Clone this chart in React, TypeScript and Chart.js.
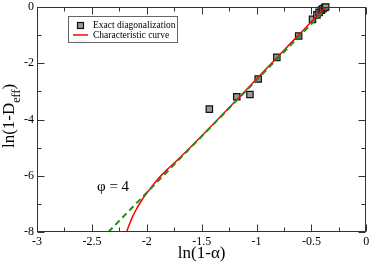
import React, { useEffect, useRef } from "react";
import { Chart, registerables } from "chart.js";

Chart.register(...registerables);

// Exact diagonalization points
const edX = [-1.43, -1.18, -1.06, -0.985, -0.815, -0.616, -0.49, -0.45, -0.43, -0.41, -0.395, -0.38, -0.37];
const edY = [-3.63, -3.19, -3.11, -2.56, -1.79, -1.03, -0.44, -0.28, -0.19, -0.11, -0.06, -0.02, 0.0];

// Characteristic curve
const curveX = [-2.184, -2.16, -2.13, -2.096, -2.06, -2.02, -1.97, -1.93, -1.88, -1.82, -1.75, -1.6, -1.4, -1.2, -1.0, -0.8, -0.6, -0.45, -0.37];
const curveY = [-8, -7.74, -7.46, -7.2, -6.96, -6.72, -6.47, -6.27, -6.04, -5.8, -5.55, -4.98, -4.19, -3.38, -2.56, -1.74, -0.93, -0.32, 0.0];

// Asymptote phi = 4
const asymX = [-2.35, -0.35];
const asymY = [-8, 0];

const xMajor = [-3, -2.5, -2, -1.5, -1, -0.5, 0];
const xMinor = [-2.75, -2.25, -1.75, -1.25, -0.75, -0.25];
const yMajor = [-8, -6, -4, -2, 0];
const yMinor = [-7, -5, -3, -1];

const SERIF = "'Liberation Serif', 'DejaVu Serif', serif";

const framePlugin = {
  id: "framePlugin",
  afterDraw(chart: any) {
    const { ctx, chartArea } = chart;
    const xs = chart.scales.x;
    const ys = chart.scales.y;
    const L = Math.round(chartArea.left) + 0.5;
    const R = Math.round(chartArea.right) - 0.5;
    const T = Math.round(chartArea.top) + 0.5;
    const B = Math.round(chartArea.bottom) - 0.5;
    ctx.save();
    ctx.strokeStyle = "#333";
    ctx.lineWidth = 1;
    ctx.strokeRect(L, T, R - L, B - T);
    ctx.beginPath();
    const tx = (v: number, len: number) => {
      const p = Math.round(xs.getPixelForValue(v)) + 0.5;
      ctx.moveTo(p, B);
      ctx.lineTo(p, B - len);
      ctx.moveTo(p, T);
      ctx.lineTo(p, T + len);
    };
    const ty = (v: number, len: number) => {
      const p = Math.round(ys.getPixelForValue(v)) + 0.5;
      ctx.moveTo(L, p);
      ctx.lineTo(L + len, p);
      ctx.moveTo(R, p);
      ctx.lineTo(R - len, p);
    };
    xMajor.forEach((v) => tx(v, 7));
    xMinor.forEach((v) => tx(v, 4));
    yMajor.forEach((v) => ty(v, 7));
    yMinor.forEach((v) => ty(v, 4));
    ctx.stroke();

    // Axis titles
    ctx.fillStyle = "#000";
    ctx.font = `17px ${SERIF}`;
    ctx.textAlign = "center";
    ctx.textBaseline = "alphabetic";
    ctx.fillText("ln(1-α)", (chartArea.left + chartArea.right) / 2, 258);

    // Y title with subscript, rotated
    ctx.save();
    ctx.translate(14, 116);
    ctx.rotate(-Math.PI / 2);
    const mainFont = `17px ${SERIF}`;
    const subFont = `12px ${SERIF}`;
    ctx.font = mainFont;
    const p1 = "ln(1-D";
    const w1 = ctx.measureText(p1).width;
    ctx.font = subFont;
    const p2 = "eff";
    const w2 = ctx.measureText(p2).width;
    ctx.font = mainFont;
    const p3 = ")";
    const w3 = ctx.measureText(p3).width;
    const total = w1 + w2 + w3;
    let x0 = -total / 2;
    ctx.textAlign = "left";
    ctx.font = mainFont;
    ctx.fillText(p1, x0, 0);
    x0 += w1;
    ctx.font = subFont;
    ctx.fillText(p2, x0, 6);
    x0 += w2;
    ctx.font = mainFont;
    ctx.fillText(p3, x0, 0);
    ctx.restore();

    // phi = 4 annotation
    ctx.font = `15px ${SERIF}`;
    ctx.textAlign = "left";
    ctx.textBaseline = "middle";
    ctx.fillText("φ = 4", 97, 187);

    // Legend
    ctx.fillStyle = "#fff";
    ctx.fillRect(68.5, 16.5, 109, 26);
    ctx.strokeStyle = "#666";
    ctx.lineWidth = 1;
    ctx.strokeRect(68.5, 16.5, 109, 26);
    ctx.fillStyle = "#999";
    ctx.strokeStyle = "#111";
    ctx.lineWidth = 1.2;
    ctx.fillRect(77.5, 22.5, 6, 6);
    ctx.strokeRect(77.5, 22.5, 6, 6);
    ctx.strokeStyle = "#ff0000";
    ctx.lineWidth = 1.5;
    ctx.beginPath();
    ctx.moveTo(73, 35);
    ctx.lineTo(88, 35);
    ctx.stroke();
    ctx.fillStyle = "#000";
    ctx.font = `9.5px ${SERIF}`;
    ctx.textBaseline = "middle";
    ctx.fillText("Exact diagonalization", 93, 25);
    ctx.fillText("Characteristic curve", 93, 35);
    ctx.restore();
  },
};

export default function App() {
  const ref = useRef<HTMLCanvasElement | null>(null);
  useEffect(() => {
    if (!ref.current) return;
    const chart = new Chart(ref.current, {
      type: "scatter",
      data: {
        datasets: [
          {
            label: "asym",
            data: asymX.map((x, i) => ({ x, y: asymY[i] })),
            showLine: true,
            borderColor: "#1f8f1f",
            borderWidth: 2,
            borderDash: [6, 4],
            pointRadius: 0,
            order: 0,
          },
          {
            label: "Characteristic curve",
            data: curveX.map((x, i) => ({ x, y: curveY[i] })),
            showLine: true,
            borderColor: "#ff0000",
            borderWidth: 1.5,
            pointRadius: 0,
            cubicInterpolationMode: "monotone",
            order: 1,
          } as any,
          {
            label: "Exact diagonalization",
            data: edX.map((x, i) => ({ x, y: edY[i] })),
            pointStyle: "rect",
            pointRadius: 4.5,
            backgroundColor: "#999",
            borderColor: "#111",
            borderWidth: 1.2,
            clip: false,
            order: 2,
          } as any,
        ],
      },
      options: {
        animation: false,
        responsive: false,
        events: [],
        layout: { padding: { top: 7, right: 4, left: 0, bottom: 0 } },
        plugins: { legend: { display: false }, tooltip: { enabled: false } },
        scales: {
          x: {
            type: "linear",
            min: -3,
            max: 0,
            grid: { display: false, drawTicks: false },
            border: { display: false },
            ticks: {
              stepSize: 0.5,
              padding: 3,
              color: "#000",
              font: { family: SERIF, size: 12 },
              callback: (v: any) => String(v),
            },
            afterFit: (s: any) => {
              s.height = 32;
              s.paddingLeft = 0;
              s.paddingRight = 0;
            },
          },
          y: {
            type: "linear",
            min: -8,
            max: 0,
            grid: { display: false, drawTicks: false },
            border: { display: false },
            ticks: {
              stepSize: 2,
              padding: 3,
              color: "#000",
              font: { family: SERIF, size: 12 },
              callback: (v: any) => String(v),
            },
            afterFit: (s: any) => {
              s.width = 37;
              s.paddingTop = 0;
              s.paddingBottom = 0;
            },
          },
        },
      },
      plugins: [framePlugin],
    });
    return () => chart.destroy();
  }, []);
  return (
    <div style={{ position: "absolute", left: 0, top: 0, width: 372, height: 264, background: "#fff" }}>
      <canvas ref={ref} width={372} height={264} />
    </div>
  );
}
